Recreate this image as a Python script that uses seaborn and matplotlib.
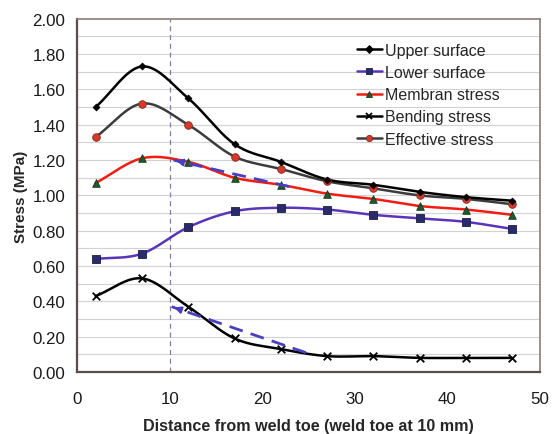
import numpy as np
import pandas as pd
import matplotlib
matplotlib.use("Agg")
import matplotlib.pyplot as plt
from matplotlib.lines import Line2D
import seaborn as sns

# Measurement positions (mm from weld toe reference)
distance = [2, 7, 12, 17, 22, 27, 32, 37, 42, 47]

upper_surface = [1.50, 1.73, 1.55, 1.29, 1.19, 1.09, 1.06, 1.02, 0.99, 0.97]
lower_surface = [0.64, 0.67, 0.82, 0.91, 0.93, 0.92, 0.89, 0.87, 0.85, 0.81]
membran_stress = [1.07, 1.21, 1.19, 1.10, 1.06, 1.01, 0.98, 0.94, 0.92, 0.89]
bending_stress = [0.43, 0.53, 0.37, 0.19, 0.13, 0.09, 0.09, 0.08, 0.08, 0.08]
effective_stress = [1.33, 1.52, 1.40, 1.22, 1.15, 1.08, 1.04, 1.00, 0.98, 0.95]

series_names = ["Upper surface", "Lower surface", "Membran stress",
                "Bending stress", "Effective stress"]

# Extrapolation guides toward the weld toe
extrap_upper_x = [22.9, 10.4]
extrap_upper_y = [1.05, 1.20]
extrap_lower_x = [24.7, 10.2]
extrap_lower_y = [0.11, 0.37]
weld_toe = 10

sns.set_theme(style="white")
plt.rcParams["font.family"] = ["Liberation Sans", "DejaVu Sans"]


def smooth(x, y, n=20):
    """Catmull-Rom style smoothing through the measured points."""
    x = np.asarray(x, float)
    y = np.asarray(y, float)
    px = np.concatenate([[2 * x[0] - x[1]], x, [2 * x[-1] - x[-2]]])
    py = np.concatenate([[2 * y[0] - y[1]], y, [2 * y[-1] - y[-2]]])
    xs, ys = [], []
    for i in range(1, len(px) - 2):
        t = np.linspace(0, 1, n, endpoint=False)
        p0, p1, p2, p3 = py[i - 1], py[i], py[i + 1], py[i + 2]
        q0, q1, q2, q3 = px[i - 1], px[i], px[i + 1], px[i + 2]
        ys.append(0.5 * ((2 * p1) + (-p0 + p2) * t + (2 * p0 - 5 * p1 + 4 * p2 - p3) * t ** 2
                         + (-p0 + 3 * p1 - 3 * p2 + p3) * t ** 3))
        xs.append(0.5 * ((2 * q1) + (-q0 + q2) * t + (2 * q0 - 5 * q1 + 4 * q2 - q3) * t ** 2
                         + (-q0 + 3 * q1 - 3 * q2 + q3) * t ** 3))
    xs.append([x[-1]])
    ys.append([y[-1]])
    return np.concatenate(xs), np.concatenate(ys)


fig = plt.figure(figsize=(5.55, 4.35), dpi=100)
ax = fig.add_axes([0.139, 0.1425, 0.834, 0.812])

styles = {
    "Upper surface": dict(values=upper_surface, line="#000000", face="#000000", edge="#000000", marker="D", size=12),
    "Lower surface": dict(values=lower_surface, line="#5a35b8", face="#2a2a6e", edge="#1e1e40", marker="s", size=26),
    "Membran stress": dict(values=membran_stress, line="#f21c10", face="#1f5a2a", edge="#1a3320", marker="^", size=30),
    "Bending stress": dict(values=bending_stress, line="#000000", face="#000000", edge="#000000", marker="x", size=30),
    "Effective stress": dict(values=effective_stress, line="#3c3c3c", face="#d9392b", edge="#7a2a22", marker="o", size=30),
}

# horizontal grid every 0.1
for gy in np.arange(0.1, 2.0, 0.1):
    ax.axhline(gy, color="#d2d2d2", lw=0.8, zorder=0)

ax.axvline(weld_toe, color="#8a7aa8", lw=0.9, ls=(0, (4, 3)), zorder=1)

draw_order = ["Lower surface", "Bending stress", "Membran stress", "Effective stress", "Upper surface"]
for name in draw_order:
    st = styles[name]
    sx, sy = smooth(distance, st["values"])
    sns.lineplot(x=sx, y=sy, ax=ax, color=st["line"], lw=1.8, sort=False,
                 estimator=None, zorder=3)
    df = pd.DataFrame({"d": distance, "v": st["values"]})
    if st["marker"] == "x":
        sns.scatterplot(data=df, x="d", y="v", ax=ax, marker="x", s=st["size"],
                        color=st["face"], linewidth=1.3, zorder=4)
    else:
        sns.scatterplot(data=df, x="d", y="v", ax=ax, marker=st["marker"], s=st["size"],
                        color=st["face"], edgecolor=st["edge"], linewidth=0.6, zorder=4)

# dashed extrapolation arrows
for xs_, ys_ in [(extrap_upper_x, extrap_upper_y), (extrap_lower_x, extrap_lower_y)]:
    ax.plot(xs_, ys_, color="#4a3fc0", lw=2.0, ls=(0, (5, 3)), zorder=5)
    ax.annotate("", xy=(xs_[1], ys_[1]), xytext=(xs_[1] + 1.2, ys_[1] + (ys_[0] - ys_[1]) * 1.2 / (xs_[0] - xs_[1])),
                arrowprops=dict(arrowstyle="-|>", color="#4a3fc0", lw=1.5, mutation_scale=10),
                zorder=5)

ax.set_xlim(0, 50)
ax.set_ylim(0, 2.0)
ax.set_xticks([0, 10, 20, 30, 40, 50])
ax.set_yticks(np.arange(0, 2.01, 0.2))
ax.set_yticklabels([f"{v:.2f}" for v in np.arange(0, 2.01, 0.2)])
ax.tick_params(axis="both", length=0, labelsize=12.2, colors="#1a1a1a")
ax.tick_params(axis="x", pad=13.5)
ax.tick_params(axis="y", pad=8.5)
ax.set_xlabel("Distance from weld toe (weld toe at 10 mm)", fontsize=11.6, fontweight="bold", labelpad=9)
ax.set_ylabel("Stress (MPa)", fontsize=11, fontweight="bold", labelpad=3)

for side in ["top", "right"]:
    ax.spines[side].set_color("#8a7d78")
    ax.spines[side].set_linewidth(1.2)
for side in ["left", "bottom"]:
    ax.spines[side].set_color("#5a4e4a")
    ax.spines[side].set_linewidth(1.6)

handles = []
for name in series_names:
    st = styles[name]
    if st["marker"] == "x":
        h = Line2D([], [], color=st["line"], lw=1.8, marker="x", markersize=5,
                   markeredgecolor=st["face"], markeredgewidth=1.3)
    else:
        h = Line2D([], [], color=st["line"], lw=1.8, marker=st["marker"], markersize=4.5,
                   markerfacecolor=st["face"], markeredgecolor=st["edge"], markeredgewidth=0.6)
    handles.append(h)
ax.legend(handles, series_names, loc="upper left", bbox_to_anchor=(0.59, 0.95),
          frameon=False, fontsize=11.5, handlelength=1.6, handletextpad=0.2,
          labelspacing=0.45, borderaxespad=0)

fig.savefig("out.png", dpi=100)
